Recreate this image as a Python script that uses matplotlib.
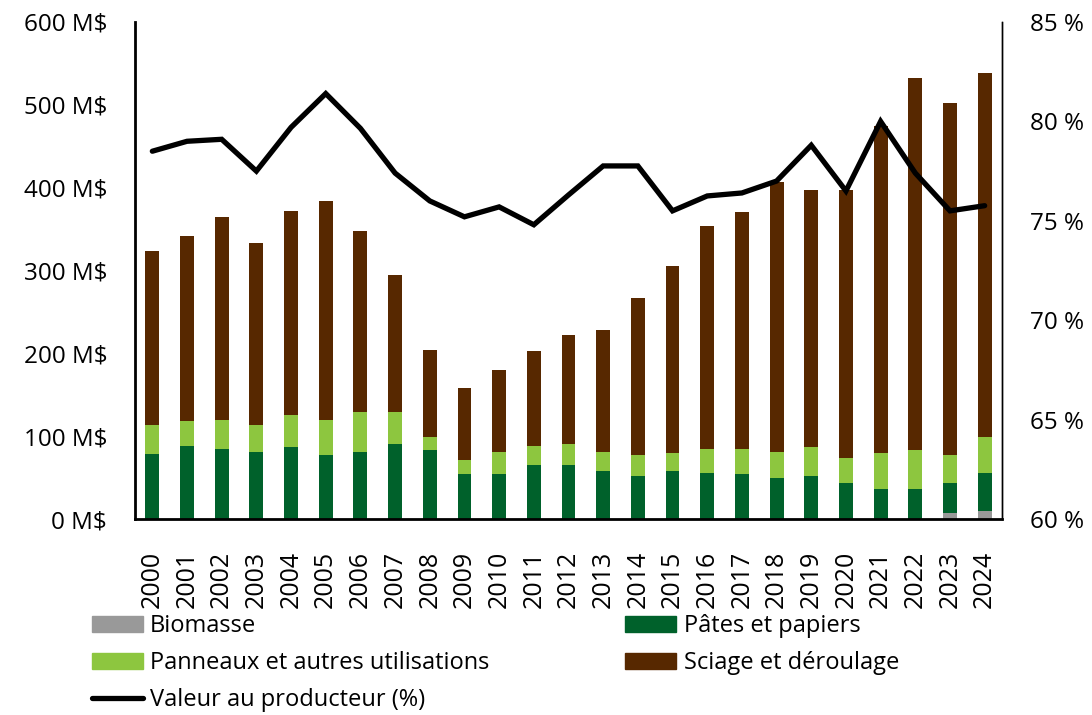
import matplotlib
matplotlib.use("Agg")
import matplotlib.pyplot as plt
import numpy as np
from matplotlib.lines import Line2D
from matplotlib.patches import Patch

plt.rcParams['font.family'] = ['Open Sans', 'DejaVu Sans']

years = [str(y) for y in range(2000, 2025)]
biomasse = [0, 0, 0, 0, 0, 0, 0, 0, 0, 0, 0, 0, 0,
            0, 0, 0, 0, 0, 0, 0, 0, 0, 0, 7.6, 9.7]
# cumulative tops
top_pates = [78.8, 88.5, 84.9, 81.3, 86.9, 77.3, 81.3, 90.9, 82.9, 54.0, 54.0, 65.6, 65.6,
             57.5, 52.3, 57.5, 55.9, 54.0, 49.9, 52.3, 43.8, 36.2, 36.2, 43.8, 55.9]
top_panneaux = [113.9, 118.0, 119.9, 113.9, 125.6, 119.9, 129.6, 129.6, 98.6, 71.6, 81.3, 88.5, 90.5,
                80.9, 77.3, 79.3, 84.9, 84.9, 80.9, 86.9, 73.3, 79.3, 82.9, 77.3, 98.6]
top_total = [324.0, 341.7, 364.6, 333.6, 372.2, 383.9, 347.3, 295.0, 204.4, 158.5, 179.5, 202.8, 221.8,
             227.8, 266.4, 305.1, 353.4, 370.3, 406.9, 397.2, 397.0, 474.8, 532.4, 501.9, 538.0]
valeur_pct = [78.5, 79.0, 79.1, 77.5, 79.7, 81.4, 79.65, 77.4, 76.0, 75.2, 75.7, 74.8, 76.3,
              77.76, 77.76, 75.5, 76.25, 76.4, 77.0, 78.8, 76.5, 80.0, 77.4, 75.5, 75.76]

biomasse = np.array(biomasse)
pates = np.array(top_pates) - biomasse
panneaux = np.array(top_panneaux) - np.array(top_pates)
sciage = np.array(top_total) - np.array(top_panneaux)

c_bio = '#999999'
c_pates = '#00612B'
c_pann = '#8DC63F'
c_sci = '#572800'

fig = plt.figure(figsize=(10.92, 7.15), dpi=100)
ax = fig.add_axes([135/1092, 1-519/715, (1002-135)/1092, (519-22)/715])
x = np.arange(len(years))
w = 0.4
ax.bar(x, biomasse, w, color=c_bio, zorder=2)
ax.bar(x, pates, w, bottom=biomasse, color=c_pates, zorder=2)
ax.bar(x, panneaux, w, bottom=biomasse + pates, color=c_pann, zorder=2)
ax.bar(x, sciage, w, bottom=biomasse + pates + panneaux, color=c_sci, zorder=2)

ax.set_xlim(-0.5, len(years) - 0.5)
ax.set_ylim(0, 600)
ax.set_yticks(np.arange(0, 601, 100))
ax.set_yticklabels([f"{v} M$" for v in range(0, 601, 100)], fontsize=17.5)
ax.set_xticks(x)
ax.set_xticklabels(years, rotation=90, fontsize=18)
ax.tick_params(axis='both', length=0)
ax.tick_params(axis='y', pad=20)
ax.tick_params(axis='x', pad=23)
ax.spines['top'].set_visible(False)
ax.spines['left'].set_linewidth(2.0)
ax.spines['bottom'].set_linewidth(2.0)
ax.spines['right'].set_linewidth(1.0)

ax2 = ax.twinx()
ax2.plot(x, valeur_pct, color='black', lw=3.8, solid_capstyle='round', solid_joinstyle='miter', zorder=5)
ax2.set_ylim(60, 85)
ax2.set_yticks(np.arange(60, 86, 5))
ax2.set_yticklabels([f"{v} %" for v in range(60, 86, 5)], fontsize=17.5)
ax2.tick_params(axis='y', length=0, pad=20)
ax2.spines['top'].set_visible(False)
ax2.spines['left'].set_visible(False)
ax2.spines['bottom'].set_visible(False)
ax2.spines['right'].set_linewidth(1.0)

handles = [Patch(color=c_bio), Patch(color=c_pann), Line2D([0], [0], color='black', lw=3.8, solid_capstyle='round'),
           Patch(color=c_pates), Patch(color=c_sci)]
labels = ['Biomasse', 'Panneaux et autres utilisations', 'Valeur au producteur (%)',
          'Pâtes et papiers', 'Sciage et déroulage']
fig.legend(handles, labels, ncol=2, loc='upper left', bbox_to_anchor=(92/1092, 1-614/715),
           frameon=False, fontsize=17, handlelength=2.16, handleheight=0.64, handletextpad=0.3,
           columnspacing=5.76, labelspacing=0.56, borderpad=0, borderaxespad=0)

fig.savefig('out.png', dpi=100)
